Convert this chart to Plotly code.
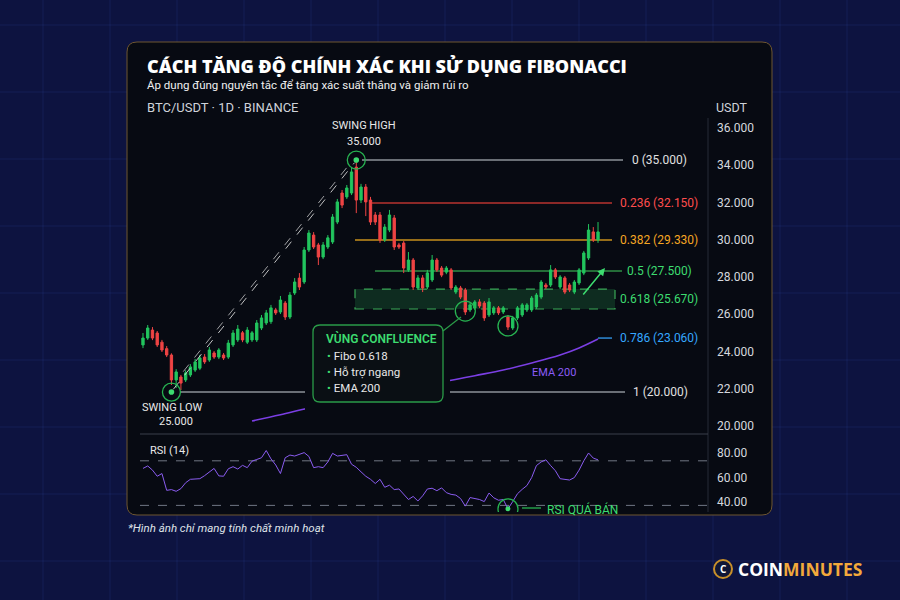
import plotly.graph_objects as go

# ---------------- DATA ----------------
# candles (chart units shown on the right axis)
opens = [24350, 24720, 25150, 24990, 24500, 24150, 23810, 22470, 22630, 22470,
         22740, 23000, 23100, 23700, 23540, 23920, 23700, 23810, 23700, 24350,
         24620, 25000, 24500, 24620, 24620, 25260, 25530, 25600, 26230, 26120,
         26600, 25850, 27140, 27940, 27730, 29450, 30250, 29720, 29070, 29610,
         29880, 30950, 32510, 32300, 32510, 33900, 32130, 32830, 32130, 31330,
         31330, 29990, 30520, 31170, 29720, 29820, 28380, 28910, 27410, 27950,
         27460, 27840, 28910, 28480, 28260, 28380, 27190, 27410, 27300, 26230,
         26330, 26660, 26600, 25960, 26070, 26340, 26120, 25850, 25260, 25800,
         25960, 26230, 26230, 26390, 26920, 27570, 27570, 28380, 27460, 27950,
         27570, 27190, 27680, 28210, 29020, 30420, 29990]
closes = [24720, 25260, 24720, 24350, 24080, 23810, 22470, 22900, 22300, 22850,
          23170, 23440, 23650, 23440, 24080, 23700, 24080, 23650, 24450, 24990,
          25200, 24620, 25150, 25000, 25530, 25800, 26070, 26340, 26070, 26760,
          25850, 27030, 27730, 27460, 29450, 30360, 29610, 29070, 29720, 30100,
          31220, 32030, 31860, 32780, 33640, 32130, 32830, 32030, 30950, 30950,
          29990, 30680, 31330, 29610, 29610, 28480, 28910, 27460, 27950, 27410,
          28220, 28910, 28380, 28100, 28480, 27410, 27460, 26920, 26120, 26500,
          26660, 26440, 25800, 26660, 26340, 26070, 26340, 25310, 25800, 26340,
          26500, 26500, 26870, 27030, 27730, 27460, 28380, 28000, 28000, 27190,
          27300, 27730, 28380, 29290, 30520, 29990, 30420]
highs = [24990, 25420, 25310, 25100, 24620, 24290, 23900, 23050, 22740, 22990,
         23320, 23600, 23810, 23860, 24240, 24020, 24180, 23920, 24620, 25150,
         25420, 25100, 25310, 25100, 25690, 25960, 26230, 26500, 26340, 26980,
         26710, 27190, 27940, 28210, 29610, 30520, 30410, 29830, 29880, 30250,
         31380, 32190, 32670, 32940, 33900, 34280, 33000, 32990, 32300, 31490,
         31490, 30840, 31600, 31330, 29830, 29930, 29340, 29020, 28100, 28100,
         28380, 29180, 29020, 28590, 28590, 28480, 27570, 27520, 27410, 26600,
         26760, 26810, 26710, 26870, 26440, 26440, 26440, 25960, 25910, 26440,
         26600, 26600, 26980, 27140, 27840, 27680, 28640, 28480, 28100, 28050,
         27680, 27840, 28480, 29400, 30840, 30680, 30950]
lows = [24180, 24620, 24610, 24240, 23970, 23700, 22200, 22040, 21930, 22360,
        22630, 22900, 23000, 23330, 23440, 23600, 23590, 23540, 23600, 24240,
        24510, 24500, 24400, 24510, 24510, 25150, 25420, 25480, 25960, 26010,
        25690, 25740, 27030, 27300, 27620, 29340, 29500, 28640, 28960, 29500,
        29770, 30840, 31700, 32190, 32400, 31430, 31970, 31270, 30790, 30790,
        29830, 29880, 30410, 29450, 29500, 28210, 28270, 27300, 27300, 27190,
        27350, 27730, 28270, 27990, 28150, 27300, 27080, 26810, 25960, 26120,
        26230, 26330, 25640, 25850, 25960, 25960, 26010, 25150, 25150, 25690,
        25850, 26120, 26120, 26280, 26810, 27350, 27460, 27890, 27350, 27080,
        27190, 27080, 27570, 28100, 28910, 29880, 29830]

rsi = [67.4, 69.4, 66.0, 61.0, 63.2, 49.5, 50.1, 48.7, 50.9, 55.7,
       58.5, 59.0, 59.0, 61.5, 64.3, 67.4, 61.3, 61.0, 67.1, 68.8,
       66.9, 69.9, 68.0, 73.3, 74.7, 76.1, 82.0, 75.2, 70.2, 63.2,
       76.1, 78.3, 77.5, 79.2, 80.3, 77.2, 68.0, 68.8, 68.0, 72.7,
       79.7, 77.5, 77.8, 78.6, 70.8, 68.3, 64.6, 61.0, 58.5, 55.1,
       58.5, 52.0, 53.7, 50.1, 50.6, 46.7, 42.0, 44.5, 40.8, 45.0,
       50.6, 51.2, 49.2, 51.5, 47.6, 46.2, 45.6, 42.8, 36.6, 43.6,
       42.8, 42.0, 40.3, 47.3, 43.4, 41.4, 42.0, 34.4, 40.3, 46.7,
       50.3, 53.4, 59.9, 69.7, 72.7, 74.4, 69.7, 65.5, 59.0, 58.5,
       57.9, 59.9, 66.0, 73.6, 80.0, 75.8, 74.4]

ema_idx = [23, 29, 35, 41, 47, 53, 59, 64, 70, 76, 82, 88, 92, 96]
ema_val = [20270, 20600, 20960, 21250, 21530, 21800, 22100, 22400, 22700, 23000,
           23380, 23810, 24190, 24670]

price_ticks = [20000, 22000, 24000, 26000, 28000, 30000, 32000, 34000, 36000]
price_ticktext = ["20.000", "22.000", "24.000", "26.000", "28.000", "30.000", "32.000", "34.000", "36.000"]
rsi_ticks = [40, 60, 80]
rsi_ticktext = ["40.00", "60.00", "80.00"]
rsi_bands = [73.6, 37.2]

fib_ratio = ["0", "0.236", "0.382", "0.5", "0.618", "0.786", "1"]
fib_value = ["35.000", "32.150", "29.330", "27.500", "25.670", "23.060", "20.000"]
fib_level = [34280, 31970, 29990, 28320, 26820, 24720, 21820]   # where drawn on chart
zone_618 = [26280, 27350]

swing_high = (45, 34280)
swing_low = (6, 21820)
touch_points = [(68, 26170), (77, 25370)]
rsi_oversold = (77, 34.4)

# ---------------- LAYOUT HELPERS ----------------
W, H = 900, 600
def px(x): return x / W
def py(y): return 1 - y / H

def rrect(x0, y0, x1, y1, r):
    return (f"M {px(x0+r)},{py(y0)} L {px(x1-r)},{py(y0)} Q {px(x1)},{py(y0)} {px(x1)},{py(y0+r)} "
            f"L {px(x1)},{py(y1-r)} Q {px(x1)},{py(y1)} {px(x1-r)},{py(y1)} "
            f"L {px(x0+r)},{py(y1)} Q {px(x0)},{py(y1)} {px(x0)},{py(y1-r)} "
            f"L {px(x0)},{py(y0+r)} Q {px(x0)},{py(y0)} {px(x0+r)},{py(y0)} Z")

GREEN = "#22c55e"
RED = "#ef4444"
LGREEN = "#3ddc70"
CARD = "#070a12"
idx = list(range(len(closes)))

fig = go.Figure()
fig.add_trace(go.Candlestick(
    x=idx, open=opens, high=highs, low=lows, close=closes,
    increasing=dict(line=dict(color=GREEN, width=1), fillcolor=GREEN),
    decreasing=dict(line=dict(color=RED, width=1), fillcolor=RED),
    whiskerwidth=0, showlegend=False, hoverinfo="skip", xaxis="x", yaxis="y"))
fig.add_trace(go.Scatter(x=ema_idx, y=ema_val, mode="lines",
                         line=dict(color="#7b3fe4", width=1.6, shape="spline"),
                         showlegend=False, hoverinfo="skip", xaxis="x", yaxis="y"))
fig.add_trace(go.Scatter(x=idx, y=rsi, mode="lines",
                         line=dict(color="#8a5cf0", width=1),
                         showlegend=False, hoverinfo="skip", xaxis="x2", yaxis="y2"))

shapes = []
# background grid
for gx in range(43, 900, 67):
    shapes.append(dict(type="line", xref="paper", yref="paper", x0=px(gx), x1=px(gx), y0=0, y1=1,
                       line=dict(color="rgba(70,95,190,0.16)", width=1), layer="below"))
for gy in range(25, 600, 67):
    shapes.append(dict(type="line", xref="paper", yref="paper", x0=0, x1=1, y0=py(gy), y1=py(gy),
                       line=dict(color="rgba(70,95,190,0.16)", width=1), layer="below"))
# card
shapes.append(dict(type="path", xref="paper", yref="paper", path=rrect(127, 42, 772, 515, 10),
                   fillcolor=CARD, line=dict(color="#6e5630", width=1), layer="below"))
# axis separators
shapes.append(dict(type="line", xref="paper", yref="paper", x0=px(708), x1=px(708), y0=py(118), y1=py(512),
                   line=dict(color="#262b36", width=1), layer="below"))
shapes.append(dict(type="line", xref="paper", yref="paper", x0=px(140), x1=px(708), y0=py(434), y1=py(434),
                   line=dict(color="#3a3f4a", width=1), layer="below"))
# rsi bands
for b in rsi_bands:
    shapes.append(dict(type="line", xref="paper", yref="y2", x0=px(140), x1=px(708), y0=b, y1=b,
                       line=dict(color="#707784", width=1, dash="dash"), layer="below"))

# fib lines
fib_line_color = ["#8d9299", "#b8332f", "#c8901c", "#2f8f46", None, "#2e8bd6", "#8d9299"]
fib_x0 = [362, 372, 355, 375, None, 598, 180]
fib_x1 = [623, 612, 612, 622, None, 612, 625]
for i in range(7):
    if fib_line_color[i] is None:
        continue
    shapes.append(dict(type="line", xref="paper", yref="y", x0=px(fib_x0[i]), x1=px(fib_x1[i]),
                       y0=fib_level[i], y1=fib_level[i],
                       line=dict(color=fib_line_color[i], width=1.5), layer="below"))
# 0.618 zone
shapes.append(dict(type="rect", xref="paper", yref="y", x0=px(355), x1=px(615), y0=zone_618[0], y1=zone_618[1],
                   fillcolor="rgba(40,170,80,0.22)", line=dict(color="#3aa857", width=1.2, dash="dash"),
                   layer="below"))

# swing dashed connectors
shapes.append(dict(type="line", xref="x", yref="y", x0=swing_low[0] + 0.4, y0=swing_low[1] + 150,
                   x1=swing_high[0] - 0.4, y1=swing_high[1] - 150,
                   line=dict(color="rgba(225,225,225,0.85)", width=1, dash="dash")))
shapes.append(dict(type="line", xref="x", yref="y", x0=swing_low[0] + 2.5, y0=swing_low[1] + 1100,
                   x1=swing_high[0] - 1.2, y1=swing_high[1] - 150,
                   line=dict(color="rgba(225,225,225,0.7)", width=1, dash="dash")))

def circle(xa, ya, r, xref="x", yref="y"):
    return dict(type="circle", xref=xref, yref=yref, xsizemode="pixel", ysizemode="pixel",
                xanchor=xa, yanchor=ya, x0=-r, x1=r, y0=-r, y1=r,
                line=dict(color="#27b351", width=1.3), fillcolor="rgba(0,0,0,0)")

def dot(xa, ya, r, xref="x", yref="y"):
    return dict(type="circle", xref=xref, yref=yref, xsizemode="pixel", ysizemode="pixel",
                xanchor=xa, yanchor=ya, x0=-r, x1=r, y0=-r, y1=r,
                line=dict(color=LGREEN, width=0), fillcolor=LGREEN)

shapes.append(circle(swing_high[0], swing_high[1], 9))
shapes.append(dot(swing_high[0], swing_high[1], 2.8))
shapes.append(circle(swing_low[0], swing_low[1], 9))
shapes.append(dot(swing_low[0], swing_low[1], 2.8))
for tp in touch_points:
    shapes.append(circle(tp[0], tp[1], 10))
shapes.append(circle(rsi_oversold[0], rsi_oversold[1], 10, "x2", "y2"))
shapes.append(dot(rsi_oversold[0], rsi_oversold[1], 2.5, "x2", "y2"))
# rsi leader
shapes.append(dict(type="line", xref="paper", yref="paper", x0=px(522), x1=px(541), y0=py(508), y1=py(508),
                   line=dict(color="#27b351", width=1.3)))

# confluence box
shapes.append(dict(type="rect", xref="paper", yref="paper", x0=px(305), x1=px(450), y0=py(412), y1=py(318),
                   fillcolor=CARD, line=dict(width=0)))
shapes.append(dict(type="path", xref="paper", yref="paper", path=rrect(313, 325, 443, 402, 7),
                   fillcolor="#0a0f14", line=dict(color="#2a9b48", width=1.3)))
shapes.append(dict(type="line", xref="paper", yref="paper", x0=px(443), x1=px(461), y0=py(331), y1=py(317),
                   line=dict(color="#2a9b48", width=1.2)))

# logo ring
shapes.append(dict(type="circle", xref="paper", yref="paper", x0=px(714), x1=px(732), y0=py(578), y1=py(560),
                   line=dict(color="#c8902a", width=2), fillcolor="#101636"))

ann = []
def text(x, y, t, size=12, color="#e6e8ec", xanchor="left", family="Roboto", **kw):
    ann.append(dict(xref="paper", yref="paper", x=px(x), y=py(y), text=t, showarrow=False,
                    xanchor=xanchor, yanchor="middle", font=dict(size=size, color=color, family=family, **kw)))

text(145, 66, "CÁCH TĂNG ĐỘ CHÍNH XÁC KHI SỬ DỤNG FIBONACCI", size=18, color="#ffffff",
     family="Open Sans", weight=800)
text(145, 85, "Áp dụng đúng nguyên tắc để tăng xác suất thắng và giảm rủi ro", size=11.5, color="#f0f0f0")
text(145, 108, "BTC/USDT · 1D · BINANCE", size=13, color="#cfd3da")
text(750, 108, "USDT", size=12.5, color="#cfd3da", xanchor="right")
text(364, 125, "SWING HIGH", size=11, color="#e8e8e8", xanchor="center")
text(364, 141, "35.000", size=11, color="#e8e8e8", xanchor="center")
text(172, 407, "SWING LOW", size=11, color="#e8e8e8", xanchor="center")
text(176, 421, "25.000", size=11, color="#e8e8e8", xanchor="center")
text(148, 450, "RSI (14)", size=11, color="#e8e8e8")
text(545, 509, "RSI QUÁ BÁN", size=12, color=LGREEN)
text(530, 372, "EMA 200", size=11, color="#8b5cf6")
text(324, 338, "VÙNG CONFLUENCE", size=12, color=LGREEN, weight=600)
for k, item in enumerate(["Fibo 0.618", "Hỗ trợ ngang", "EMA 200"]):
    text(325, 356 + 16 * k, f"<span style='color:{LGREEN}'>•</span> {item}", size=11.5, color="#e8e8e8")

fib_label_color = ["#e0e0e0", "#ff4d4d", "#f5a623", LGREEN, LGREEN, "#35a7ff", "#e0e0e0"]
fib_label_x = [630, 618, 618, 625, 618, 618, 631]
for i in range(7):
    ann.append(dict(xref="paper", yref="y", x=px(fib_label_x[i]), y=fib_level[i],
                    text=f"{fib_ratio[i]} ({fib_value[i]})", showarrow=False, xanchor="left", yanchor="middle",
                    font=dict(size=12, color=fib_label_color[i], family="Roboto")))

# green arrow
ann.append(dict(xref="paper", yref="paper", x=px(605), y=py(268), ax=-23, ay=28, text="", showarrow=True,
                arrowhead=2, arrowsize=1, arrowwidth=1.5, arrowcolor=LGREEN))

text(126, 528, "*Hình ảnh chỉ mang tính chất minh hoạt", size=11.5, color="#dfe2e8", style="italic")
text(723, 569, "<b>C</b>", size=10, color="#ffffff", xanchor="center", family="Open Sans")
text(736, 569, "<b>COIN</b><span style='color:#f2a93b'><b>MINUTES</b></span>", size=17.5, color="#ffffff",
     family="Open Sans")

fig.update_layout(
    width=W, height=H, margin=dict(l=0, r=0, t=0, b=0),
    paper_bgcolor="#0d1340", plot_bgcolor="rgba(0,0,0,0)",
    font=dict(family="Roboto", color="#e6e8ec"),
    showlegend=False,
    xaxis=dict(domain=[px(140), px(708)], range=[-0.63, 119.2], visible=False,
               rangeslider=dict(visible=False), anchor="y", fixedrange=True),
    yaxis=dict(domain=[py(434), py(118)], range=[19568, 36537], side="right", anchor="x",
               tickvals=price_ticks, ticktext=price_ticktext, showgrid=False, zeroline=False,
               showline=False, ticks="", ticklabelstandoff=8,
               tickfont=dict(size=12, color="#d5d8de", family="Roboto")),
    xaxis2=dict(domain=[px(140), px(708)], range=[-0.63, 119.2], visible=False, anchor="y2"),
    yaxis2=dict(domain=[py(512), py(440)], range=[31.8, 90.6], side="right", anchor="x2",
                tickvals=rsi_ticks, ticktext=rsi_ticktext, showgrid=False, zeroline=False,
                showline=False, ticks="", ticklabelstandoff=8,
                tickfont=dict(size=12, color="#d5d8de", family="Roboto")),
    shapes=shapes, annotations=ann,
)

fig.write_html("out.html",
               config={"displayModeBar": False},
               post_script="document.documentElement.style.margin='0';document.body.style.margin='0';"
                           "document.body.style.padding='0';document.body.style.overflow='hidden';"
                           "document.body.style.background='#0d1340';")
